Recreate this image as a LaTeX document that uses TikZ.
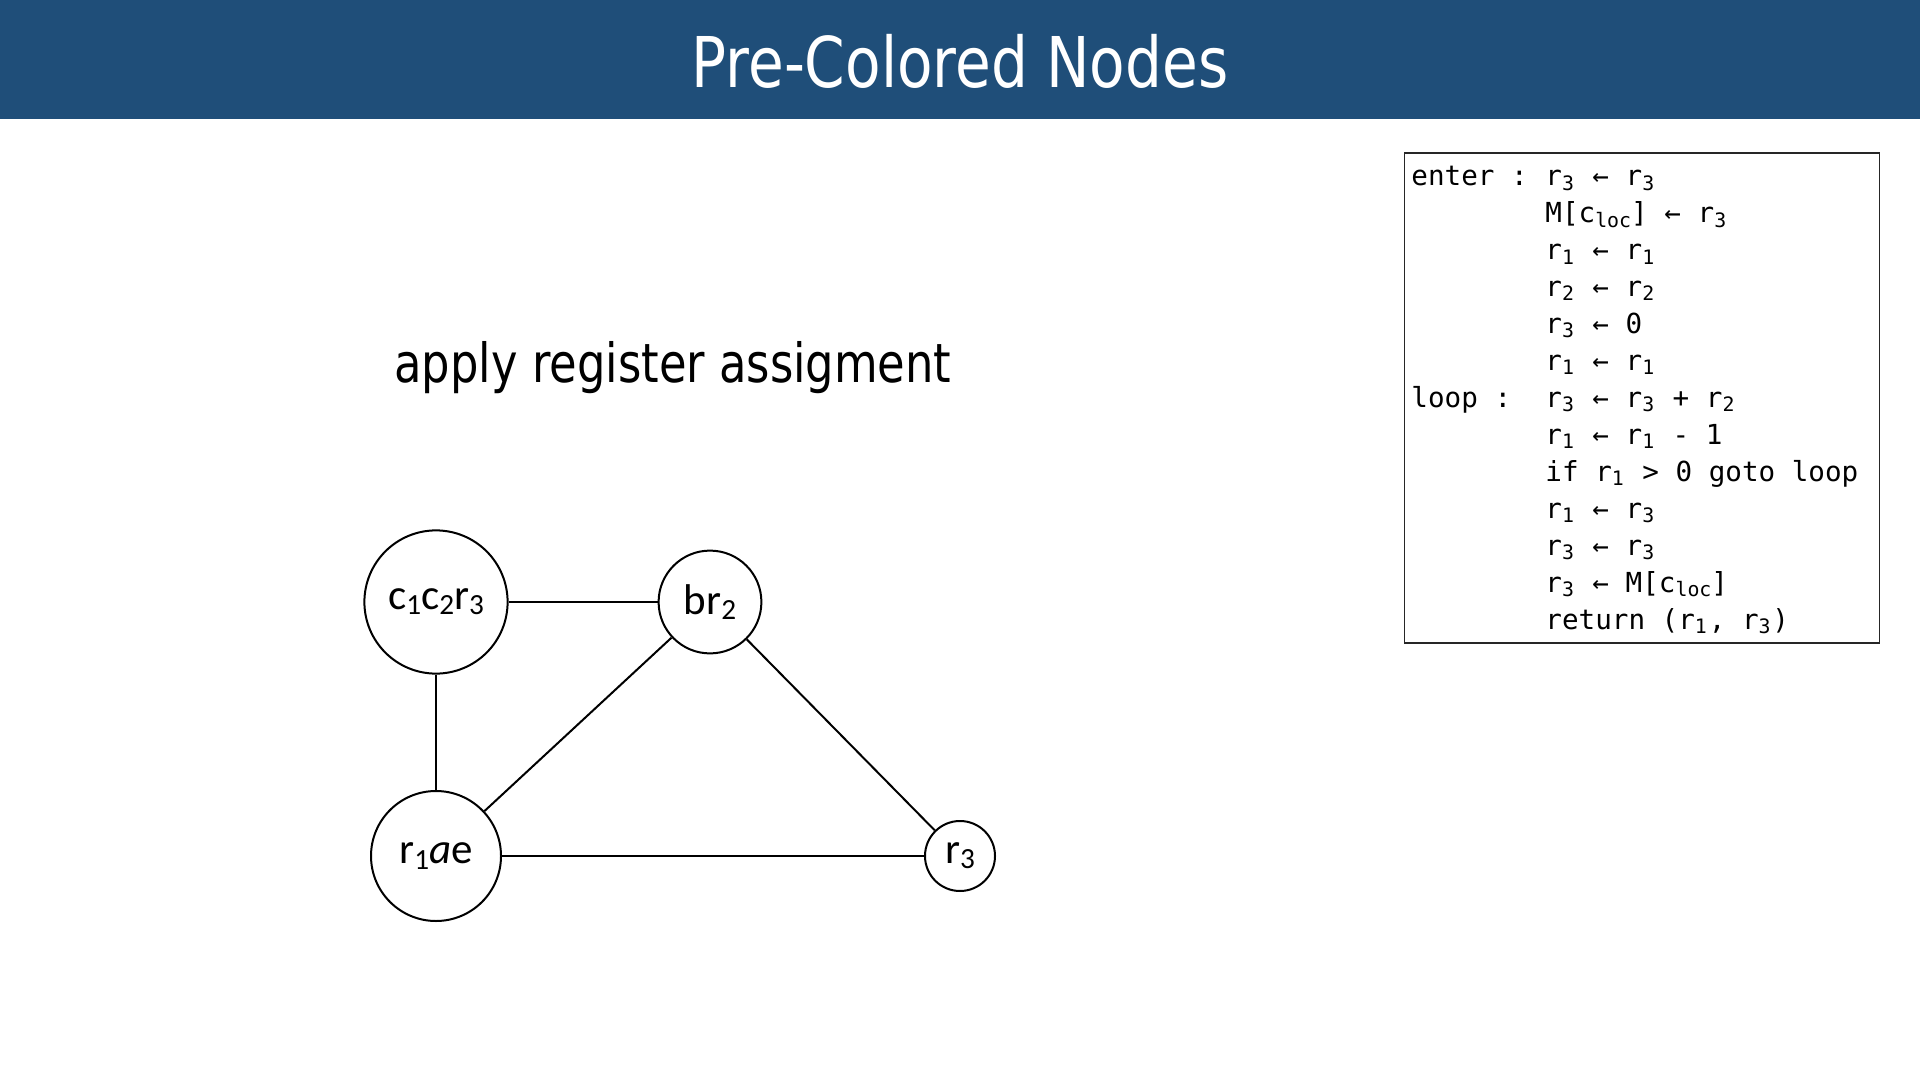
\documentclass[tikz,border=0pt]{standalone}
\usepackage{fontspec}
\setmainfont{DejaVu Sans}
\newfontfamily\nodefont{Carlito}
\newfontfamily\codefont{DejaVu Sans Mono}
\usepackage{graphicx}
\definecolor{titleblue}{RGB}{31,78,121}
\newcommand{\nsub}[1]{\raisebox{-0.12em}{\scalebox{0.68}{#1}}}
\newcommand{\csub}[1]{\makebox[0.5em][l]{\raisebox{-0.15em}{\scalebox{0.72}{#1}}}}
\newcommand{\lsub}[1]{\raisebox{-0.15em}{\scalebox{0.72}{#1}}}
\tikzset{
  gnode/.style={circle, draw, line width=1pt, inner sep=0pt, font=\nodefont\fontsize{21.5}{26}\selectfont},
  gedge/.style={line width=1pt},
  codeline/.style={anchor=base west, inner sep=0pt, font=\codefont\fontsize{13.8}{16}\selectfont},
  codebox/.style={draw=black!85, line width=0.6pt, inner sep=0pt}
}
\begin{document}
\begin{tikzpicture}[x=0.5pt,y=-0.5pt]
\useasboundingbox (0,0) rectangle (1920,1080);
% title bar
\fill[titleblue] (0,0) rectangle (1920,119);
\node[anchor=base, text=white, inner sep=0pt, font=\fontsize{35}{42}\selectfont] (title) at (960,88) {\scalebox{0.83}[1]{Pre-Colored Nodes}};
% subtitle
\node[anchor=base, inner sep=0pt, font=\fontsize{27}{32}\selectfont] (subtitle) at (673,382) {\scalebox{0.83}[1]{apply register assigment}};
% graph
\node[gnode, minimum size=71.6pt] (c) at (436,602) {c\nsub{1}c\nsub{2}r\nsub{3}};
\node[gnode, minimum size=51.4pt] (br) at (710,602) {br\nsub{2}};
\node[gnode, minimum size=65pt] (rae) at (436,856) {r\nsub{1}\textit{a}e};
\node[gnode, minimum size=35pt] (rthree) at (960,856) {r\nsub{3}};
\draw[gedge] (c) -- (br);
\draw[gedge] (c) -- (rae);
\draw[gedge] (br) -- (rae);
\draw[gedge] (br) -- (rthree);
\draw[gedge] (rae) -- (rthree);
% code box
\node[codebox, minimum width=237.5pt, minimum height=245pt] (box) at (1642,398) {};
\node[codeline] (k1) at (1411,186) {enter :};
\node[codeline] (k7) at (1411,407.6) {loop :};
\node[codeline] (l1) at (1545,186) {r\csub{3} ← r\csub{3}};
\node[codeline] (l2) at (1545,222.9) {M[c\lsub{loc}] ← r\csub{3}};
\node[codeline] (l3) at (1545,259.9) {r\csub{1} ← r\csub{1}};
\node[codeline] (l4) at (1545,296.8) {r\csub{2} ← r\csub{2}};
\node[codeline] (l5) at (1545,333.8) {r\csub{3} ← 0};
\node[codeline] (l6) at (1545,370.7) {r\csub{1} ← r\csub{1}};
\node[codeline] (l7) at (1545,407.6) {r\csub{3} ← r\csub{3} + r\csub{2}};
\node[codeline] (l8) at (1545,444.6) {r\csub{1} ← r\csub{1} - 1};
\node[codeline] (l9) at (1545,481.5) {if r\csub{1} > 0 goto loop};
\node[codeline] (l10) at (1545,518.5) {r\csub{1} ← r\csub{3}};
\node[codeline] (l11) at (1545,555.4) {r\csub{3} ← r\csub{3}};
\node[codeline] (l12) at (1545,592.3) {r\csub{3} ← M[c\lsub{loc}]};
\node[codeline] (l13) at (1545,629.3) {return (r\csub{1}, r\csub{3})};
\end{tikzpicture}
\end{document}
